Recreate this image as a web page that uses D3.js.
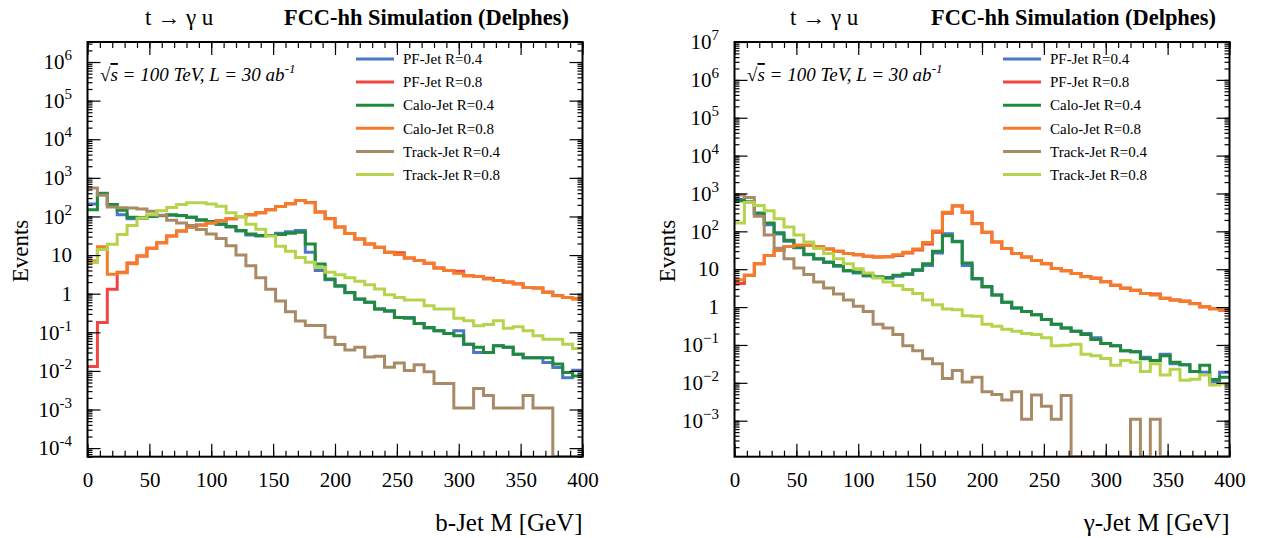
<!DOCTYPE html>
<head>
  <meta charset="utf-8">
  <title>t -> gamma u jet mass</title>
  <script src="https://d3js.org/d3.v7.min.js"></script>
  <style>
    body { margin: 0; background: #fff; }
    text { font-family: "Liberation Serif", "DejaVu Serif", serif; fill: #000; }
  </style>
</head>
<body>
  <div id="chart"></div>
  <script>
    // 50 bins of 8 GeV between 0 and 400 GeV
    var binEdges = d3.range(0, 400, 8);
    var xMajor = [0, 50, 100, 150, 200, 250, 300, 350, 400];
    var xMinor = d3.range(0, 401, 10);

    var seriesNames = ['PF-Jet R=0.4', 'PF-Jet R=0.8', 'Calo-Jet R=0.4', 'Calo-Jet R=0.8', 'Track-Jet R=0.4', 'Track-Jet R=0.8'];
    var seriesColors = ['#4a78c6', '#ef4545', '#1f8a3c', '#f57c28', '#a98a66', '#b6d34c'];

    // b-Jet M, events per bin
    var bPF04 = [210, 400, 195, 110, 87, 88, 100, 104, 108, 104, 95, 80, 72, 62, 53, 42, 33, 31, 32, 37, 40, 43, 11.8, 4.0, 2.3, 1.55, 1.05, 0.72, 0.6, 0.4, 0.35, 0.24, 0.24, 0.17, 0.13, 0.11, 0.093, 0.11, 0.049, 0.03, 0.03, 0.045, 0.041, 0.027, 0.022, 0.022, 0.0165, 0.0122, 0.0067, 0.0104];
    var bPF08 = [0.013, 0.18, 1.3, 3.6, 6.2, 9.5, 15, 21, 31, 42, 52, 60, 68, 77, 87, 98, 110, 125, 150, 180, 212, 258, 230, 130, 88, 53, 36, 26, 19.5, 16, 11.8, 11.5, 8.4, 7.2, 6.1, 4.6, 4.0, 3.8, 2.9, 2.8, 2.5, 2.2, 2.0, 1.8, 1.45, 1.4, 1.1, 0.9, 0.8, 0.74];
    var bCalo04 = [150, 390, 205, 144, 96, 92, 102, 106, 110, 106, 96, 82, 74, 64, 55, 43, 35, 32, 32, 34, 37, 39, 19.5, 5.9, 2.4, 1.6, 1.08, 0.73, 0.6, 0.4, 0.36, 0.24, 0.23, 0.17, 0.134, 0.11, 0.093, 0.081, 0.049, 0.041, 0.03, 0.045, 0.041, 0.027, 0.022, 0.022, 0.022, 0.015, 0.0091, 0.0074];
    var bCalo08 = [7, 16.5, 3.2, 3.5, 6, 9.5, 15, 21, 31, 42, 52, 60, 68, 77, 87, 98, 110, 125, 150, 180, 215, 260, 225, 130, 87, 53, 36, 26, 19.5, 16, 11.8, 10.3, 8.4, 7.2, 6.1, 4.6, 4.0, 3.4, 2.9, 2.8, 2.4, 2.2, 1.97, 1.78, 1.45, 1.4, 1.08, 0.89, 0.8, 0.73];
    var bTrack04 = [550, 355, 175, 168, 165, 155, 137, 107, 80, 68, 58, 46, 35, 27, 17.5, 10, 5.3, 2.6, 1.3, 0.65, 0.34, 0.195, 0.15, 0.15, 0.074, 0.048, 0.035, 0.041, 0.023, 0.024, 0.0125, 0.016, 0.0102, 0.0145, 0.0095, 0.0047, 0.0047, 0.0011, 0.0011, 0.0035, 0.0023, 0.0011, 0.0011, 0.0011, 0.0023, 0.0011, 0.0011, 0, 0, 0];
    var bTrack08 = [6.4, 14, 19, 34, 58, 90, 110, 140, 170, 205, 225, 228, 210, 185, 125, 100, 63, 47, 31, 17, 12.6, 8.7, 6.5, 4.8, 3.6, 3.1, 2.6, 2.1, 1.7, 1.32, 0.94, 0.8, 0.69, 0.69, 0.49, 0.4, 0.4, 0.23, 0.2, 0.148, 0.16, 0.2, 0.128, 0.139, 0.109, 0.081, 0.066, 0.066, 0.049, 0.038];

    // gamma-Jet M, events per bin
    var gPF04 = [700, 600, 290, 150, 85, 55, 37, 24, 18.5, 15, 12, 9, 8, 6.6, 6.0, 5.8, 6.5, 7.2, 9.3, 12.5, 27, 87, 55, 12.6, 5.5, 3.4, 2.1, 1.35, 0.94, 0.77, 0.63, 0.47, 0.35, 0.28, 0.23, 0.2, 0.156, 0.11, 0.095, 0.07, 0.066, 0.047, 0.039, 0.057, 0.032, 0.03, 0.02, 0.019, 0.0105, 0.019];
    var gPF08 = [4.2, 6.9, 13.9, 23, 31, 40, 43, 43, 39, 34, 30, 26, 24, 22, 21, 21.5, 23, 27, 32, 46, 95, 300, 470, 320, 160, 95, 52, 35, 26, 21, 17, 14, 10.5, 9.1, 7.7, 6.4, 5.9, 4.7, 3.8, 3.2, 2.8, 2.3, 2.2, 1.7, 1.55, 1.45, 1.25, 1.0, 0.9, 0.82];
    var gCalo04 = [640, 600, 305, 167, 92, 58, 38, 25, 19, 15.4, 12.6, 9.3, 8.4, 6.9, 6.3, 6.0, 6.9, 7.6, 9.7, 13.9, 30, 76, 53, 14.5, 5.7, 3.5, 2.1, 1.35, 0.94, 0.77, 0.63, 0.47, 0.35, 0.28, 0.23, 0.19, 0.14, 0.11, 0.095, 0.07, 0.066, 0.043, 0.039, 0.052, 0.035, 0.03, 0.02, 0.029, 0.0123, 0.014];
    var gCalo08 = [5.3, 6.9, 13.9, 23, 31, 40, 43, 43, 39, 34, 30, 26, 24, 22, 21, 21.5, 24, 28, 34, 51, 102, 318, 475, 318, 158, 95, 52, 35, 26, 21, 17, 14, 10.5, 9.1, 7.7, 6.3, 5.7, 4.7, 3.8, 3.1, 2.8, 2.3, 2.1, 1.7, 1.55, 1.4, 1.22, 1.04, 0.9, 0.85];
    var gTrack04 = [910, 780, 250, 80, 36, 19, 10.7, 7.2, 4.6, 3.2, 2.2, 1.55, 1.05, 0.77, 0.35, 0.28, 0.19, 0.095, 0.07, 0.043, 0.032, 0.013, 0.021, 0.0105, 0.014, 0.0058, 0.0049, 0.0035, 0.0058, 0.0011, 0.0048, 0.0024, 0.0011, 0.0046, 0, 0, 0, 0, 0, 0, 0.0011, 0, 0.0011, 0, 0, 0, 0, 0, 0, 0];
    var gTrack08 = [167, 575, 480, 350, 215, 130, 80, 52, 35, 26, 19, 14, 10.3, 7.9, 5.9, 4.6, 3.7, 2.9, 2.3, 1.55, 1.15, 0.89, 0.85, 0.59, 0.57, 0.35, 0.31, 0.26, 0.23, 0.2, 0.19, 0.156, 0.095, 0.098, 0.105, 0.057, 0.052, 0.044, 0.029, 0.039, 0.035, 0.02, 0.032, 0.016, 0.023, 0.0117, 0.0124, 0.016, 0.0087, 0.0095];

    var serif = '"Liberation Serif", "DejaVu Serif", serif';

    var svg = d3.select('#chart')
      .append('svg')
        .attr('width', 1269)
        .attr('height', 538);

    var panels = [
      { id: 'b', left: 87.5, right: 582.5, top: 42, bottom: 456.7,
        yDomain: [6e-5, 3.3e6], yLabels: [1e-4, 1e-3, 1e-2, 1e-1, 1, 10, 1e2, 1e3, 1e4, 1e5, 1e6],
        minus: '-', series: [bPF04, bPF08, bCalo04, bCalo08, bTrack04, bTrack08],
        xTitle: 'b-Jet M [GeV]', titleX: 145, headerX: 284, legendX: 356 },
      { id: 'g', left: 734.5, right: 1229.5, top: 42, bottom: 456.7,
        yDomain: [1.12e-4, 1e7], yLabels: [1e-3, 1e-2, 1e-1, 1, 10, 1e2, 1e3, 1e4, 1e5, 1e6, 1e7],
        minus: '\u2212', series: [gPF04, gPF08, gCalo04, gCalo08, gTrack04, gTrack08],
        xTitle: '\u03b3-Jet M [GeV]', titleX: 790, headerX: 931, legendX: 1003 }
    ];

    panels.forEach(drawPanel);

    function drawPanel(p) {
      var x = d3.scaleLinear().domain([0, 400]).range([p.left, p.right]);
      var y = d3.scaleLog().domain(p.yDomain).range([p.bottom, p.top]);

      // minor ticks of the log axis: 1..9 times each decade
      var lo = Math.floor(Math.log10(p.yDomain[0]));
      var hi = Math.ceil(Math.log10(p.yDomain[1]));
      var yMinor = [];
      for (var n = lo; n <= hi; n++) {
        for (var m = 1; m < 10; m++) {
          var v = m * Math.pow(10, n);
          if (v >= p.yDomain[0] && v <= p.yDomain[1]) yMinor.push(v);
        }
      }

      var g = svg.append('g');

      g.append('clipPath')
          .attr('id', 'clip-' + p.id)
        .append('rect')
          .attr('x', p.left)
          .attr('y', p.top)
          .attr('width', p.right - p.left)
          .attr('height', p.bottom - p.top);

      // step histograms, empty bins sit on the lower frame edge
      var line = d3.line()
        .x(function(d) { return x(d[0]); })
        .y(function(d) { return y(Math.max(d[1], p.yDomain[0])); })
        .curve(d3.curveStepAfter);

      p.series.forEach(function(values, k) {
        var pts = values.map(function(v, i) { return [binEdges[i], v]; });
        pts.push([400, values[values.length - 1]]);
        g.append('path')
          .datum(pts)
          .attr('d', line)
          .attr('fill', 'none')
          .attr('stroke', seriesColors[k])
          .attr('stroke-width', 3)
          .attr('clip-path', 'url(#clip-' + p.id + ')');
      });

      // ticks on all four sides, pointing inwards
      function tickAxis(axis, transform, labels) {
        var a = g.append('g')
          .attr('transform', transform)
          .call(axis)
          .attr('font-family', serif);
        a.select('.domain').remove();
        a.selectAll('line').attr('stroke', '#000').attr('stroke-width', 1.2);
        if (!labels) a.selectAll('text').remove();
        return a;
      }

      tickAxis(d3.axisBottom(x).tickValues(xMinor).tickSize(-6), 'translate(0,' + p.bottom + ')', false);
      tickAxis(d3.axisTop(x).tickValues(xMinor).tickSize(-6), 'translate(0,' + p.top + ')', false);
      tickAxis(d3.axisTop(x).tickValues(xMajor).tickSize(-13), 'translate(0,' + p.top + ')', false);
      var xAx = tickAxis(d3.axisBottom(x).tickValues(xMajor).tickSize(-13).tickPadding(15), 'translate(0,' + p.bottom + ')', true);
      xAx.selectAll('text').attr('font-size', 21);

      tickAxis(d3.axisLeft(y).tickValues(yMinor).tickSize(-5), 'translate(' + p.left + ',0)', false);
      tickAxis(d3.axisRight(y).tickValues(yMinor).tickSize(-5), 'translate(' + p.right + ',0)', false);
      tickAxis(d3.axisRight(y).tickValues(p.yLabels).tickSize(-13), 'translate(' + p.right + ',0)', false);
      var yAx = tickAxis(d3.axisLeft(y).tickValues(p.yLabels).tickSize(-13).tickPadding(15.5), 'translate(' + p.left + ',0)', true);

      // labels as 1, 10, 10^n
      yAx.selectAll('text').each(function(d) {
        var t = d3.select(this).text('').attr('font-size', 21).attr('dy', '0.32em');
        var e = Math.round(Math.log10(d));
        if (e === 0) { t.text('1'); return; }
        if (e === 1) { t.text('10'); return; }
        t.append('tspan').text('10');
        t.append('tspan')
          .attr('font-size', 15)
          .attr('dy', -9)
          .text(e < 0 ? p.minus + (-e) : e);
      });

      // frame
      g.append('rect')
        .attr('x', p.left)
        .attr('y', p.top)
        .attr('width', p.right - p.left)
        .attr('height', p.bottom - p.top)
        .attr('fill', 'none')
        .attr('stroke', '#000')
        .attr('stroke-width', 2);

      // header
      g.append('text')
        .attr('x', p.titleX)
        .attr('y', 25)
        .attr('font-size', 23)
        .text('t \u2192 \u03b3 u');
      g.append('text')
        .attr('x', p.headerX)
        .attr('y', 25)
        .attr('font-size', 22.4)
        .attr('font-weight', 'bold')
        .text('FCC-hh Simulation (Delphes)');

      // energy and luminosity
      var lumi = g.append('text')
        .attr('x', p.left + 12.5)
        .attr('y', 81)
        .attr('font-size', 19)
        .attr('font-style', 'italic');
      lumi.append('tspan').text('\u221a');
      lumi.append('tspan').attr('text-decoration', 'overline').text('s');
      lumi.append('tspan').text(' = 100 TeV, L = 30 ab');
      lumi.append('tspan').attr('font-size', 13).attr('dy', -8).text('-1');

      // legend
      seriesNames.forEach(function(name, k) {
        var ly = 59 + k * 23.1;
        g.append('line')
          .attr('x1', p.legendX)
          .attr('x2', p.legendX + 38)
          .attr('y1', ly)
          .attr('y2', ly)
          .attr('stroke', seriesColors[k])
          .attr('stroke-width', 3);
        g.append('text')
          .attr('x', p.legendX + 47)
          .attr('y', ly)
          .attr('dy', '0.35em')
          .attr('font-size', 15)
          .text(name);
      });

      // axis titles
      g.append('text')
        .attr('x', p.right)
        .attr('y', 531)
        .attr('text-anchor', 'end')
        .attr('font-size', 25)
        .text(p.xTitle);
      g.append('text')
        .attr('transform', 'translate(' + (p.left - 60) + ',251) rotate(-90)')
        .attr('text-anchor', 'middle')
        .attr('font-size', 23)
        .text('Events');
    }
  </script>
</body>
